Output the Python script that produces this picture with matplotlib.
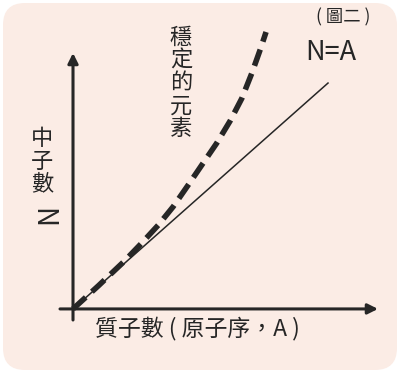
import matplotlib.pyplot as plt
from matplotlib.patches import FancyBboxPatch

plt.rcParams['font.family'] = ['Noto Sans CJK TC', 'DejaVu Sans']

# N = A reference line
line_a = [0, 100]
line_n = [0, 100]

# stable elements curve
stable_a = [0, 10, 20, 26.9, 33.5, 39.3, 45.2, 50.5, 56.3, 61.6, 66.2, 70.1, 73.6, 75.7]
stable_n = [0, 10.3, 21, 29.1, 37.2, 45.3, 54.9, 63.7, 73.3, 83.2, 93.2, 104.3, 115.4, 122.6]

ink = '#262626'
bg = '#fbece5'

fig = plt.figure(figsize=(4, 3.78), dpi=100)

# background panel in pixel coordinates
bgax = fig.add_axes([0, 0, 1, 1])
bgax.set_xlim(0, 400)
bgax.set_ylim(378, 0)
bgax.axis('off')
bgax.add_patch(FancyBboxPatch((3, 3), 394, 367, boxstyle='round,pad=0,rounding_size=22',
                              fc=bg, ec='none'))

bgax.text(181, 83, '穩\n定\n的\n元\n素', ha='center', va='center', fontsize=16,
          linespacing=0.99, color=ink)
bgax.text(42, 161, '中\n子\n數', ha='center', va='center', fontsize=16,
          linespacing=0.99, color=ink)
bgax.text(42, 218, 'N', ha='center', va='center', fontsize=20, rotation=-90, color=ink)
bgax.text(343, 17, '( 圖二 )', ha='center', va='center', fontsize=12.5, color=ink)
bgax.text(331, 52, 'N=A', ha='center', va='center', fontsize=19.5, color=ink)
bgax.text(95, 328, '質子數 ( 原子序，A )', ha='left', va='center', fontsize=16.5, color=ink)

# chart axes
ax = fig.add_axes([60 / 400, 58 / 378, 318 / 400, 267 / 378])
ax.set_facecolor('none')
ax.set_xlim(-5.1, 119.6)
ax.set_ylim(-4.9, 113.3)
ax.axis('off')

arrow = dict(arrowstyle='-|>,head_length=0.6,head_width=0.3', color=ink, lw=2.2,
             shrinkA=0, shrinkB=0)
ax.annotate('', xy=(119.6, 0), xytext=(-5.1, 0), arrowprops=arrow)
ax.annotate('', xy=(0, 113.3), xytext=(0, -4.9), arrowprops=arrow)

ax.plot(line_a, line_n, color=ink, lw=1.1)
ax.plot(stable_a, stable_n, color=ink, lw=4, dashes=(3.1, 1.5), clip_on=False,
        solid_capstyle='butt', dash_capstyle='butt')

fig.savefig('out.png', dpi=100, facecolor='white')
